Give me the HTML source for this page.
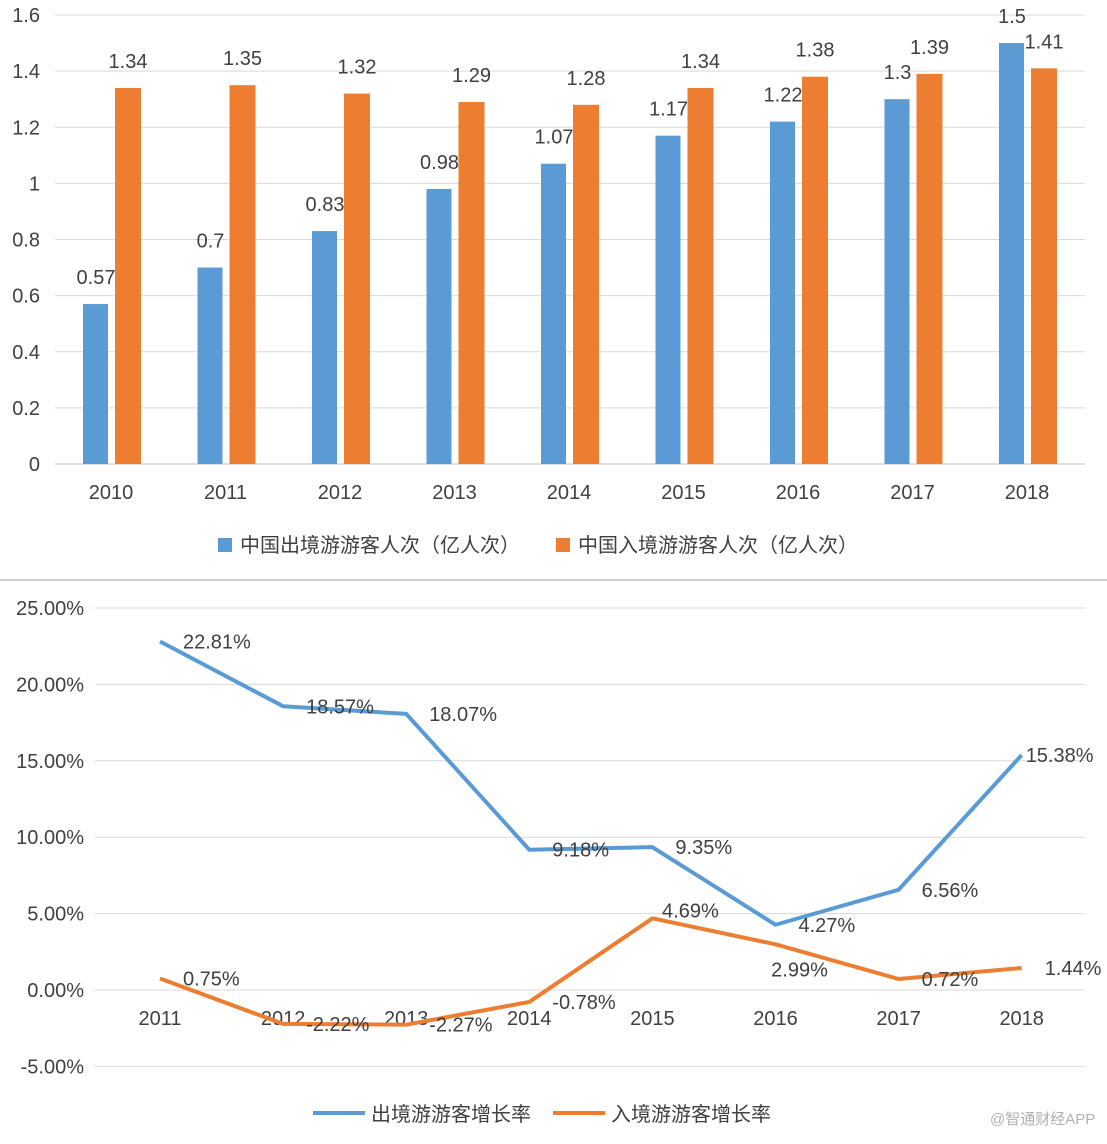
<!DOCTYPE html>
<html><head><meta charset="utf-8"><style>
body{margin:0;background:#fff;width:1107px;height:1139px;overflow:hidden;font-family:"Liberation Sans","Noto Sans CJK SC",sans-serif;}
svg text{font-family:"Liberation Sans","Noto Sans CJK SC",sans-serif;}
</style></head><body>
<svg id="c" width="1107" height="1139">
<line x1="0" y1="580" x2="1107" y2="580" stroke="#d0d0d0" stroke-width="2"/>
<g id="topG"></g>
<g id="botG"></g>
<g>
<rect x="218" y="538" width="14" height="14" fill="#5b9bd5"/>
<text x="240" y="552" font-size="20" fill="#404040">中国出境游游客人次（亿人次）</text>
<rect x="556" y="538" width="14" height="14" fill="#ed7d31"/>
<text x="578" y="552" font-size="20" fill="#404040">中国入境游游客人次（亿人次）</text>
</g>
<g>
<line x1="313" y1="1113" x2="365" y2="1113" stroke="#5b9bd5" stroke-width="4"/>
<text x="371" y="1121" font-size="20" fill="#404040">出境游游客增长率</text>
<line x1="553" y1="1113" x2="605" y2="1113" stroke="#ed7d31" stroke-width="4"/>
<text x="611" y="1121" font-size="20" fill="#404040">入境游游客增长率</text>
</g>
<text x="990" y="1124" font-size="15" fill="#b0b0b0">@智通财经APP</text>
</svg>
<script>
const barYears=["2010","2011","2012","2013","2014","2015","2016","2017","2018"];
const outbound=[0.57,0.7,0.83,0.98,1.07,1.17,1.22,1.3,1.5];
const inbound=[1.34,1.35,1.32,1.29,1.28,1.34,1.38,1.39,1.41];
const barTicks=[0,0.2,0.4,0.6,0.8,1,1.2,1.4,1.6];
const lineYears=["2011","2012","2013","2014","2015","2016","2017","2018"];
const outGrowth=[22.81,18.57,18.07,9.18,9.35,4.27,6.56,15.38];
const inGrowth=[0.75,-2.22,-2.27,-0.78,4.69,2.99,0.72,1.44];
const lineTicks=[-5,0,5,10,15,20,25];
const outLabelPos=["r","r","r","r","r","r","r","e"];
const inLabelPos=["r","r","r","r","a","b","r","r"];
const NS="http://www.w3.org/2000/svg";
function mk(p,t,a,txt){const e=document.createElementNS(NS,t);for(const k in a)e.setAttribute(k,a[k]);if(txt!==undefined)e.textContent=txt;p.appendChild(e);return e;}
const topG=document.getElementById('topG'),botG=document.getElementById('botG');
const FS=20;
const by=v=>464-v/1.6*449;
const bx=i=>111+i*114.5;
barTicks.forEach(t=>{
 const g=mk(topG,'line',{x1:55,x2:1085,y1:by(t),y2:by(t),stroke:t===0?'#bfbfbf':'#d9d9d9','stroke-width':1});
 
 const l=mk(topG,'text',{x:40,y:by(t)+7,'font-size':FS,fill:'#404040','text-anchor':'end'},String(t));
 
});
barYears.forEach((y,i)=>{
 const c=bx(i);
 const l=mk(topG,'text',{x:c,y:499,'font-size':FS,fill:'#404040','text-anchor':'middle'},y);
 
 const b1=mk(topG,'rect',{x:c-28,y:by(outbound[i]),width:25,height:464-by(outbound[i]),fill:'#5b9bd5'});
 
 const b2=mk(topG,'rect',{x:c+4,y:by(inbound[i]),width:26,height:464-by(inbound[i]),fill:'#ed7d31'});
 
 const t1=mk(topG,'text',{x:c-15,y:by(outbound[i])-20,'font-size':FS,fill:'#404040','text-anchor':'middle'},String(outbound[i]));
 
 const t2=mk(topG,'text',{x:c+17,y:by(inbound[i])-20,'font-size':FS,fill:'#404040','text-anchor':'middle'},String(inbound[i]));
 
});
const ly=v=>990-v*15.28;
const lx=i=>160+i*123.1;
lineTicks.forEach(t=>{
 const g=mk(botG,'line',{x1:95,x2:1085,y1:ly(t),y2:ly(t),stroke:'#d9d9d9','stroke-width':1});
 
 const l=mk(botG,'text',{x:84,y:ly(t)+7,'font-size':FS,fill:'#404040','text-anchor':'end'},t.toFixed(2)+'%');
 
});
lineYears.forEach((y,i)=>{
 const l=mk(botG,'text',{x:lx(i),y:1025,'font-size':FS,fill:'#404040','text-anchor':'middle'},y);
 
});
function series(vals,color,name,pos){
 const p=mk(botG,'polyline',{points:vals.map((v,i)=>lx(i)+','+ly(v)).join(' '),fill:'none',stroke:color,'stroke-width':4,'stroke-linejoin':'round'});
 
 vals.forEach((v,i)=>{
  let x=lx(i)+23,y=ly(v)+7,a='start';
  const q=pos[i];
  if(q==='a'){x=lx(i)+38;y=ly(v)-1;a='middle';}
  if(q==='b'){x=lx(i)+24;y=ly(v)+32;a='middle';}
  if(q==='e'){x=lx(i)+4;}
  const t=mk(botG,'text',{x:x,y:y,'font-size':FS,fill:'#404040','text-anchor':a},v.toFixed(2)+'%');
  
 });
}
series(outGrowth,'#5b9bd5','outbound-growth',outLabelPos);
series(inGrowth,'#ed7d31','inbound-growth',inLabelPos);
</script>
</body></html>
